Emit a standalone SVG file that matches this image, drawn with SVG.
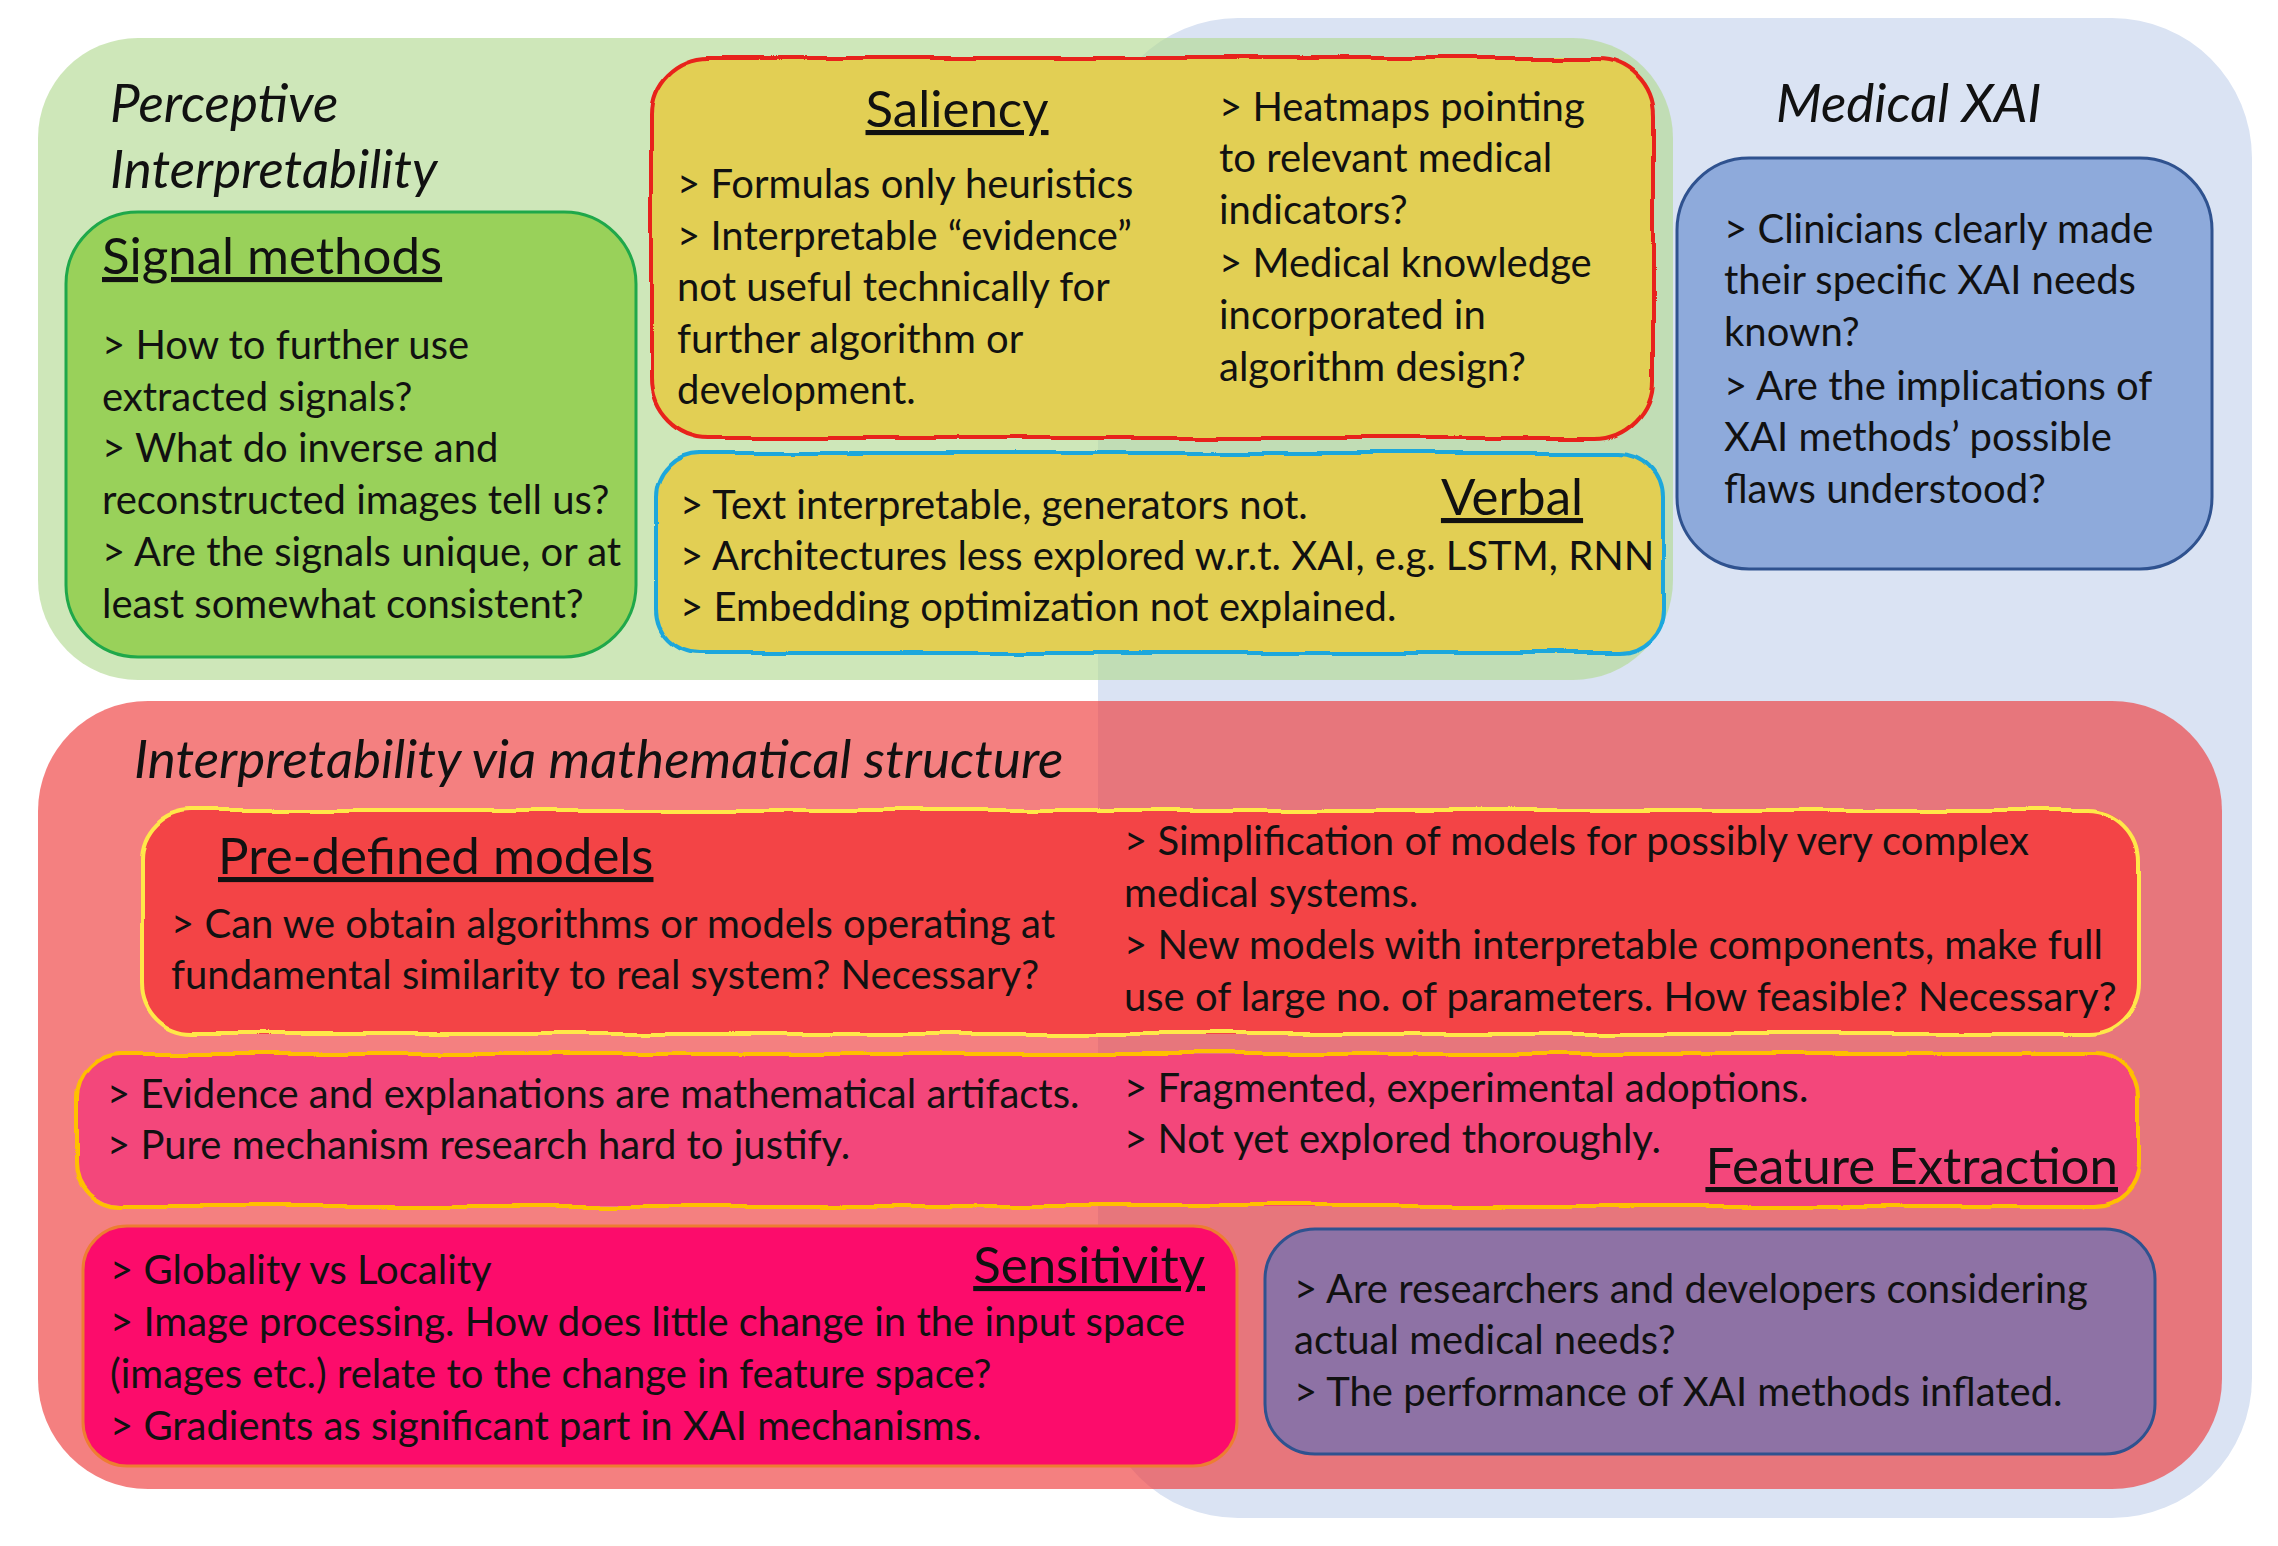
<svg xmlns="http://www.w3.org/2000/svg" width="2278" height="1546" viewBox="0 0 2278 1546">
<defs>
<filter id="wobble" x="-5%" y="-5%" width="110%" height="110%">
<feTurbulence type="fractalNoise" baseFrequency="0.012" numOctaves="2" seed="3" result="n"/>
<feDisplacementMap in="SourceGraphic" in2="n" scale="8" xChannelSelector="R" yChannelSelector="G"/>
</filter>
<style>
text{font-family:Lato,"Open Sans","Liberation Sans",sans-serif;fill:#111;}
.b{font-size:40px;}
.t{font-size:51px;text-decoration:underline;}
.h{font-size:53px;font-style:italic;}
.wv{fill:none;stroke-width:4;filter:url(#wobble);}
</style>
</defs>
<rect width="2278" height="1546" fill="#ffffff"/>

<g id="region-medical-xai">
<rect x="1098" y="18" width="1154" height="1500" rx="140" fill="#dae3f3"/>
<text class="h" x="1776" y="122">Medical XAI</text>
</g>

<g id="region-perceptive">
<rect x="38" y="38" width="1635" height="642" rx="100" fill="#b4da94" fill-opacity="0.65"/>
<text class="h" x="110" y="122">Perceptive</text>
<text class="h" x="110" y="188">Interpretability</text>
</g>

<g id="region-math">
<rect x="38" y="701" width="2184" height="788" rx="110" fill="#ee3c3c" fill-opacity="0.65"/>
<text class="h" x="134" y="778">Interpretability via mathematical structure</text>
</g>

<g id="node-signal">
<rect x="66" y="212" width="570" height="445" rx="72" fill="#99d15a" stroke="#1fa84a" stroke-width="3"/>
<text class="t" x="102" y="274">Signal methods</text>
<text class="b" x="102" y="359">&gt; How to further use</text>
<text class="b" x="102" y="411">extracted signals?</text>
<text class="b" x="102" y="462">&gt; What do inverse and</text>
<text class="b" x="102" y="514">reconstructed images tell us?</text>
<text class="b" x="102" y="566">&gt; Are the signals unique, or at</text>
<text class="b" x="102" y="618">least somewhat consistent?</text>
</g>

<g id="node-saliency">
<rect x="651" y="58" width="1003" height="380" rx="58" fill="#e2cf54"/>
<rect x="651" y="58" width="1003" height="380" rx="58" class="wv" stroke="#e8231a"/>
<text class="t" x="957" y="127" text-anchor="middle">Saliency</text>
<text class="b" x="677" y="198">&gt; Formulas only heuristics</text>
<text class="b" x="677" y="250">&gt; Interpretable “evidence”</text>
<text class="b" x="677" y="301">not useful technically for</text>
<text class="b" x="677" y="353">further algorithm or</text>
<text class="b" x="677" y="404">development.</text>
<text class="b" x="1219" y="121">&gt; Heatmaps pointing</text>
<text class="b" x="1219" y="172">to relevant medical</text>
<text class="b" x="1219" y="224">indicators?</text>
<text class="b" x="1219" y="277">&gt; Medical knowledge</text>
<text class="b" x="1219" y="329">incorporated in</text>
<text class="b" x="1219" y="381">algorithm design?</text>
</g>

<g id="node-verbal">
<rect x="656" y="453" width="1007" height="200" rx="44" fill="#e2cf54"/>
<rect x="656" y="453" width="1007" height="200" rx="44" class="wv" stroke="#1ca7dc"/>
<text class="t" x="1512" y="515" text-anchor="middle">Verbal</text>
<text class="b" x="680" y="519">&gt; Text interpretable, generators not.</text>
<text class="b" x="680" y="570">&gt; Architectures less explored w.r.t. XAI, e.g. LSTM, RNN</text>
<text class="b" x="680" y="621">&gt; Embedding optimization not explained.</text>
</g>

<g id="node-medical">
<rect x="1677" y="158" width="535" height="411" rx="72" fill="#8eaadb" stroke="#2f528f" stroke-width="3"/>
<text class="b" x="1724" y="243">&gt; Clinicians clearly made</text>
<text class="b" x="1724" y="294">their specific XAI needs</text>
<text class="b" x="1724" y="346">known?</text>
<text class="b" x="1724" y="400">&gt; Are the implications of</text>
<text class="b" x="1724" y="451">XAI methods’ possible</text>
<text class="b" x="1724" y="503">flaws understood?</text>
</g>

<g id="node-predefined">
<rect x="142" y="810" width="1997" height="224" rx="50" fill="#f34446"/>
<rect x="142" y="810" width="1997" height="224" rx="50" class="wv" stroke="#ffe84a" stroke-width="3.5"/>
<text class="t" x="218" y="874">Pre-defined models</text>
<text class="b" x="171" y="938">&gt; Can we obtain algorithms or models operating at</text>
<text class="b" x="171" y="989">fundamental similarity to real system? Necessary?</text>
<text class="b" x="1124" y="855">&gt; Simplification of models for possibly very complex</text>
<text class="b" x="1124" y="907">medical systems.</text>
<text class="b" x="1124" y="959">&gt; New models with interpretable components, make full</text>
<text class="b" x="1124" y="1011">use of large no. of parameters. How feasible? Necessary?</text>
</g>

<g id="node-feature">
<rect x="77" y="1054" width="2062" height="152" rx="44" fill="#f3477b"/>
<rect x="77" y="1054" width="2062" height="152" rx="44" class="wv" stroke="#ffc000" stroke-width="3.5"/>
<text class="t" x="2118" y="1184" text-anchor="end">Feature Extraction</text>
<text class="b" x="107" y="1108">&gt; Evidence and explanations are mathematical artifacts.</text>
<text class="b" x="107" y="1159">&gt; Pure mechanism research hard to justify.</text>
<text class="b" x="1124" y="1102">&gt; Fragmented, experimental adoptions.</text>
<text class="b" x="1124" y="1153">&gt; Not yet explored thoroughly.</text>
</g>

<g id="node-sensitivity">
<rect x="83" y="1226" width="1154" height="240" rx="44" fill="#fc0c6b" stroke="#ed7d31" stroke-width="3"/>
<text class="t" x="1205" y="1283" text-anchor="end">Sensitivity</text>
<text class="b" x="110" y="1284">&gt; Globality vs Locality</text>
<text class="b" x="110" y="1336">&gt; Image processing. How does little change in the input space</text>
<text class="b" x="110" y="1388">(images etc.) relate to the change in feature space?</text>
<text class="b" x="110" y="1440">&gt; Gradients as significant part in XAI mechanisms.</text>
</g>

<g id="node-needs">
<rect x="1265" y="1229" width="890" height="225" rx="50" fill="#8e72a5" stroke="#2f528f" stroke-width="3"/>
<text class="b" x="1294" y="1303">&gt; Are researchers and developers considering</text>
<text class="b" x="1294" y="1354">actual medical needs?</text>
<text class="b" x="1294" y="1406">&gt; The performance of XAI methods inflated.</text>
</g>

<g id="connectors"/>
</svg>
